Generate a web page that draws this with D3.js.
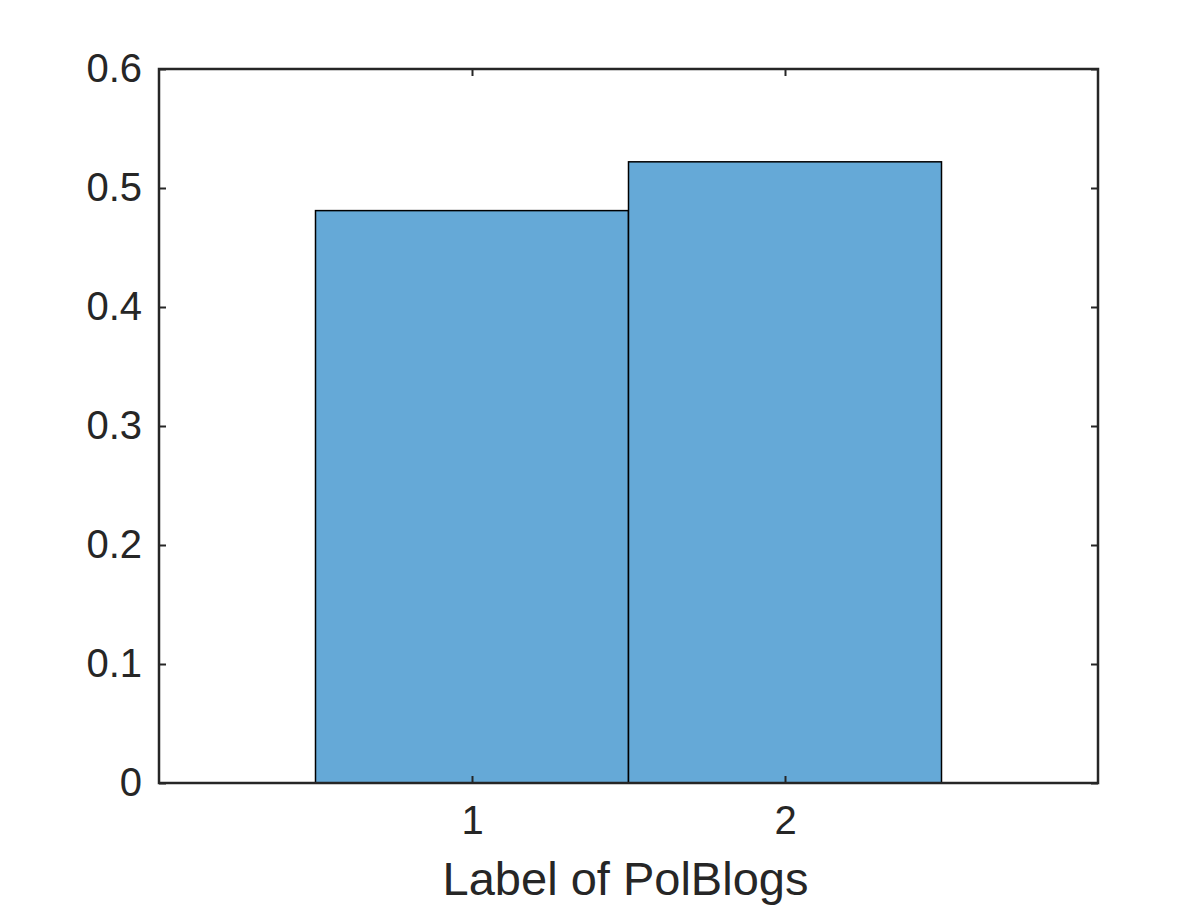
<!DOCTYPE html>
<html>
<head>
<meta charset="utf-8">
<script src="https://cdn.jsdelivr.net/npm/d3@7"></script>
<style>
  body { margin: 0; background: #fff; }
  text { font-family: "Liberation Sans", Arial, Helvetica, sans-serif; fill: #262626; }
</style>
</head>
<body>
<div id="chart"></div>
<script>
// bar data (label -> fraction)
const labels = [1, 2];
const values = [0.481, 0.522];
const yTicks = [0, 0.1, 0.2, 0.3, 0.4, 0.5, 0.6];
const xTicks = [1, 2];
const xLabel = "Label of PolBlogs";

const W = 1196, H = 908;
const margin = { top: 69, right: 98, bottom: 125, left: 159 };
const width = W - margin.left - margin.right;
const height = H - margin.top - margin.bottom;

const svg = d3.select("#chart").append("svg")
    .attr("width", W)
    .attr("height", H);

const g = svg.append("g")
    .attr("transform", `translate(${margin.left},${margin.top})`);

const x = d3.scaleLinear().domain([0, 3]).range([0, width]);
const y = d3.scaleLinear().domain([0, 0.6]).range([height, 0]);

// bars
g.append("g")
    .selectAll("rect")
    .data(labels)
    .join("rect")
    .attr("x", (d) => x(d - 0.5))
    .attr("y", (d, i) => y(values[i]))
    .attr("width", x(1) - x(0))
    .attr("height", (d, i) => y(0) - y(values[i]))
    .attr("fill", "#65a9d7")
    .attr("stroke", "#000")
    .attr("stroke-width", 1.5);

// axes, matlab style: ticks inside, mirrored on all sides
const tickLen = 7;
const styleAxis = (sel) => {
    sel.selectAll(".domain").remove();
    sel.selectAll(".tick line").attr("stroke", "#262626").attr("stroke-width", 2);
    sel.selectAll(".tick text").attr("font-size", 40);
};

g.append("g")
    .attr("transform", `translate(0,${height})`)
    .call(d3.axisBottom(x).tickValues(xTicks).tickSize(-tickLen).tickPadding(23).tickFormat(d3.format("d")))
    .call(styleAxis)
    .selectAll(".tick text").attr("dy", "0.71em");

g.append("g")
    .call(d3.axisTop(x).tickValues(xTicks).tickSize(-tickLen).tickFormat(""))
    .call(styleAxis);

g.append("g")
    .call(d3.axisLeft(y).tickValues(yTicks).tickSize(-tickLen).tickPadding(17).tickFormat(d => d === 0 ? "0" : d3.format(".1f")(d)))
    .call(styleAxis);

g.append("g")
    .attr("transform", `translate(${width},0)`)
    .call(d3.axisRight(y).tickValues(yTicks).tickSize(-tickLen).tickFormat(""))
    .call(styleAxis);

// frame
g.append("rect")
    .attr("width", width)
    .attr("height", height)
    .attr("fill", "none")
    .attr("stroke", "#262626")
    .attr("stroke-width", 2.5);

// x label
svg.append("text")
    .attr("x", margin.left + width / 2 - 3)
    .attr("y", 895)
    .attr("text-anchor", "middle")
    .attr("font-size", 47)
    .text(xLabel);
</script>
</body>
</html>
